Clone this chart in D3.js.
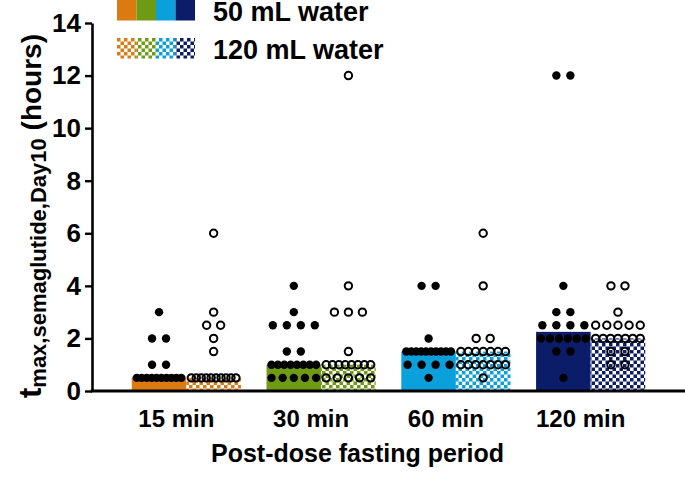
<!DOCTYPE html>
<html>
<head>
<meta charset="utf-8">
<script src="https://cdn.jsdelivr.net/npm/d3@7"></script>
<style>
  html, body { margin: 0; padding: 0; background: #fff; }
  text { font-family: Arial, "Liberation Sans", Helvetica, sans-serif; font-weight: bold; fill: #000; }
</style>
</head>
<body>
<script>
'use strict';

// fasting periods and water volumes
const groups = ["15 min", "30 min", "60 min", "120 min"];
const waters = ["50 mL water", "120 mL water"];
const groupColors = ["#dc7a12", "#6f9a14", "#0aa0dc", "#0b1c68"];
const yTicks = [0, 2, 4, 6, 8, 10, 12, 14];

// tmax per subject (hours)
const tmax50_15 = [3, 2, 2, 1, 1, 0.5, 0.5, 0.5, 0.5, 0.5, 0.5, 0.5, 0.5, 0.5, 0.5];
const tmax120_15 = [6, 3, 2.5, 2.5, 2, 1.5, 0.5, 0.5, 0.5, 0.5, 0.5, 0.5, 0.5, 0.5, 0.5, 0.5];
const tmax50_30 = [4, 3, 2.5, 2.5, 2.5, 2.5, 1.5, 1.5, 1, 1, 1, 1, 1, 1, 1, 1, 0.5, 0.5, 0.5, 0.5, 0.5];
const tmax120_30 = [12, 4, 3, 3, 3, 1.5, 1, 1, 1, 1, 1, 1, 1, 1, 0.5, 0.5, 0.5, 0.5, 0.5];
const tmax50_60 = [4, 4, 2, 1.5, 1.5, 1.5, 1.5, 1.5, 1.5, 1.5, 1.5, 1.5, 1.5, 1, 1, 1, 1, 0.5];
const tmax120_60 = [6, 4, 2, 2, 1.5, 1.5, 1.5, 1.5, 1.5, 1.5, 1.5, 1, 1, 1, 1, 1, 1, 1, 0.5];
const tmax50_120 = [12, 12, 4, 3, 3, 2.5, 2.5, 2.5, 2.5, 2, 2, 2, 2, 2, 2, 1.5, 1.5, 0.5];
const tmax120_120 = [4, 4, 3, 2.5, 2.5, 2.5, 2.5, 2.5, 2, 2, 2, 2, 2, 2, 2, 1.5, 1.5, 1, 1];

const series50 = [tmax50_15, tmax50_30, tmax50_60, tmax50_120];
const series120 = [tmax120_15, tmax120_30, tmax120_60, tmax120_120];

const width = 685, height = 480;
const margin = { left: 92, right: 685, top: 23, bottom: 391 };

const svg = d3.select('body').append('svg')
  .attr('width', width)
  .attr('height', height);

// checkered fills for the 120 mL bars
const defs = svg.append('defs');
groupColors.forEach((c, i) => {
  let p = defs.append('pattern')
    .attr('id', 'chk' + i)
    .attr('patternUnits', 'userSpaceOnUse')
    .attr('width', 7)
    .attr('height', 7);
  p.append('rect').attr('width', 7).attr('height', 7).attr('fill', '#fff');
  p.append('rect').attr('width', 3.5).attr('height', 3.5).attr('fill', c);
  p.append('rect').attr('x', 3.5).attr('y', 3.5).attr('width', 3.5).attr('height', 3.5).attr('fill', c);
});

// scales
let x = d3.scaleBand()
  .domain(groups)
  .range([margin.left, margin.right])
  .paddingInner(0.19)
  .paddingOuter(0.295);

let xSub = d3.scaleBand()
  .domain(waters)
  .range([0, x.bandwidth()]);

let y = d3.scaleLinear()
  .domain([0, 14])
  .range([margin.bottom, margin.top]);

// flatten into rows for drawing
let bars = [];
let dots = [];
groups.forEach((g, gi) => {
  [series50[gi], series120[gi]].forEach((vals, wi) => {
    let x0 = x(g) + xSub(waters[wi]);
    let bw = xSub.bandwidth();
    bars.push({ g: gi, w: wi, x0: x0, bw: bw, med: d3.median(vals) });

    // spread points that share a value across the bar
    let byVal = d3.group(vals, (v) => v);
    byVal.forEach((arr, v) => {
      let n = arr.length;
      let s = n > 1 ? Math.min(14, (bw - 10) / (n - 1)) : 0;
      arr.forEach((_, i) => {
        dots.push({ w: wi, v: v, cx: x0 + bw / 2 + (i - (n - 1) / 2) * s });
      });
    });
  });
});

// bars = median
svg.append('g').selectAll('rect')
  .data(bars)
  .enter()
  .append('rect')
  .attr('x', (d) => d.x0)
  .attr('width', (d) => d.bw)
  .attr('y', (d) => y(d.med))
  .attr('height', (d) => y(0) - y(d.med))
  .attr('fill', (d) => d.w === 0 ? groupColors[d.g] : 'url(#chk' + d.g + ')');

// individual points
svg.append('g').selectAll('circle')
  .data(dots)
  .enter()
  .append('circle')
  .attr('cx', (d) => d.cx)
  .attr('cy', (d) => y(d.v))
  .attr('r', (d) => d.w === 0 ? 4.2 : 3.7)
  .attr('fill', (d) => d.w === 0 ? '#000' : 'none')
  .attr('stroke', '#000')
  .attr('stroke-width', (d) => d.w === 0 ? 0 : 2);

// y axis
let yAxis = d3.axisLeft(y)
  .tickValues(yTicks)
  .tickSize(7)
  .tickSizeOuter(0)
  .tickPadding(4);
let gy = svg.append('g')
  .attr('transform', 'translate(' + margin.left + ',0)')
  .call(yAxis);
gy.select('.domain').attr('stroke-width', 2.6);
gy.selectAll('.tick line').attr('stroke-width', 2.4);
gy.selectAll('.tick text')
  .style('font-size', '26px')
  .style('font-family', 'Arial, "Liberation Sans", sans-serif')
  .style('font-weight', 'bold');

// x axis (labels only, baseline drawn across)
let xAxis = d3.axisBottom(x).tickSize(0).tickPadding(19);
let gx = svg.append('g')
  .attr('transform', 'translate(0,' + margin.bottom + ')')
  .call(xAxis);
gx.select('.domain').remove();
gx.selectAll('.tick text')
  .attr('x', -10)
  .style('font-size', '24px')
  .style('font-family', 'Arial, "Liberation Sans", sans-serif')
  .style('font-weight', 'bold');
svg.append('line')
  .attr('x1', margin.left - 1.3)
  .attr('x2', margin.right)
  .attr('y1', y(0))
  .attr('y2', y(0))
  .attr('stroke', '#000')
  .attr('stroke-width', 3);

// axis titles
svg.append('text')
  .attr('x', (margin.left + margin.right) / 2 - 31)
  .attr('y', 462)
  .attr('text-anchor', 'middle')
  .style('font-size', '25px')
  .text('Post-dose fasting period');

let yt = svg.append('text')
  .attr('transform', 'translate(41,216)rotate(-90)')
  .attr('text-anchor', 'middle');
yt.append('tspan').style('font-size', '31px').text('t');
yt.append('tspan').attr('dy', 5).style('font-size', '22px').text('max,semaglutide,Day10');
yt.append('tspan').attr('dy', -5).style('font-size', '28px').text('\u00a0(hours)');

// legend
let lg = svg.append('g').attr('transform', 'translate(117,0)');
waters.forEach((w, wi) => {
  let row = lg.append('g').attr('transform', 'translate(0,' + (wi * 38) + ')');
  row.selectAll('rect')
    .data(groupColors)
    .enter()
    .append('rect')
    .attr('x', (d, i) => i * 19.5)
    .attr('y', 0)
    .attr('width', 19.5)
    .attr('height', 20.5)
    .attr('fill', (d, i) => wi === 0 ? d : 'url(#chk' + i + ')');
  row.append('text')
    .attr('x', 96)
    .attr('y', 21)
    .style('font-size', '27px')
    .text(w);
});
</script>
</body>
</html>
